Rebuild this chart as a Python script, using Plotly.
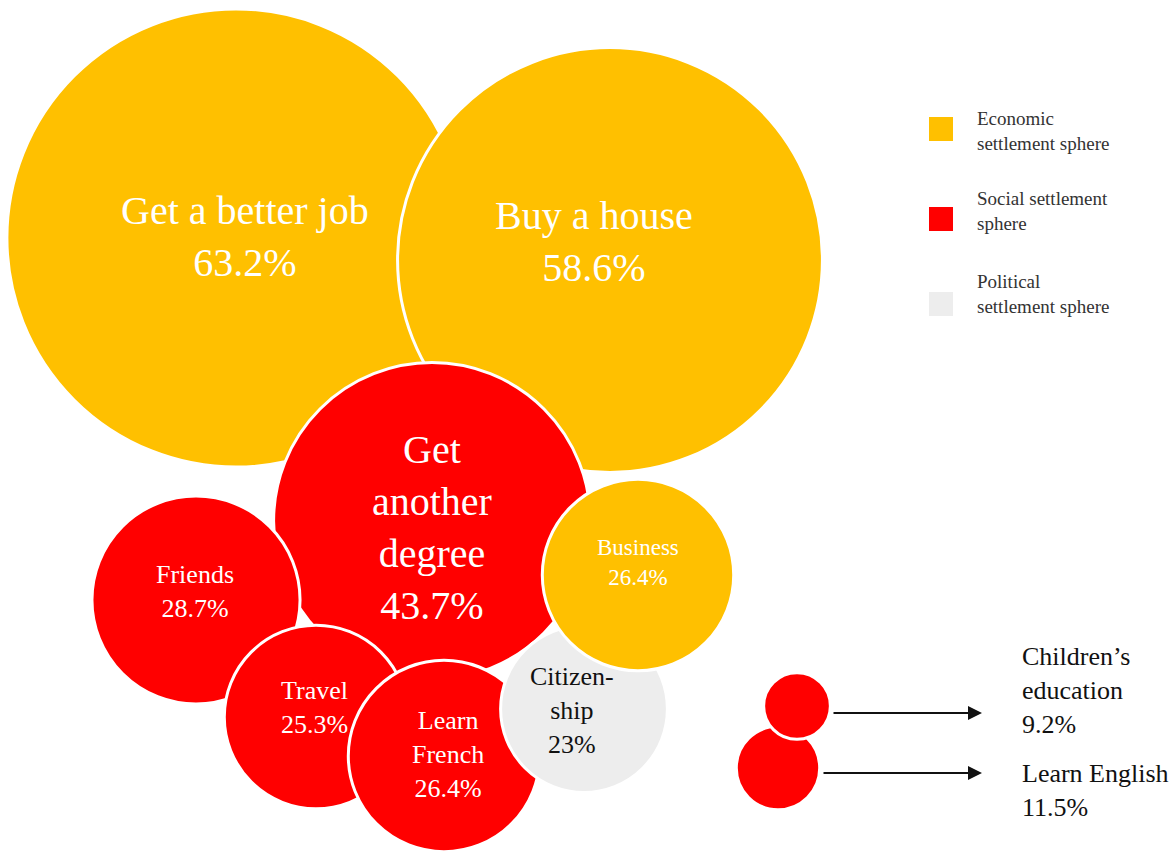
import plotly.graph_objects as go

# ---- data ----
labels = ["Get a better job", "Buy a house", "Get another degree", "Friends", "Travel",
          "Learn French", "Citizenship", "Business", "Learn English", "Children's education"]
values = [63.2, 58.6, 43.7, 28.7, 25.3, 26.4, 23.0, 26.4, 11.5, 9.2]
spheres = ["Economic", "Economic", "Social", "Social", "Social",
           "Social", "Political", "Economic", "Social", "Social"]
value_text = ["63.2%", "58.6%", "43.7%", "28.7%", "25.3%", "26.4%", "23%", "26.4%", "11.5%", "9.2%"]

sphere_names = ["Economic", "Social", "Political"]
legend_labels = ["Economic<br>settlement sphere", "Social settlement<br>sphere", "Political<br>settlement sphere"]

# ---- layout (packed bubble positions, page pixels) ----
pos_x = [236, 610, 432, 196, 316, 444, 584, 638, 778, 797]
pos_y = [238, 260, 521, 600, 717, 756, 709, 575, 768, 706]
scale = 7.25  # diameter px per percent

colors = {"Economic": "#FFC000", "Social": "#FF0000", "Political": "#EDEDED"}
W, H = 1174, 854
FONT = "Liberation Serif"

fig = go.Figure()
fig.add_trace(go.Scatter(
    x=pos_x, y=pos_y, mode="markers",
    marker=dict(size=[v * scale for v in values],
                sizemode="diameter",
                color=[colors[s] for s in spheres],
                opacity=1,
                line=dict(color="white", width=3)),
    hoverinfo="text", text=labels, showlegend=False))

# legend squares
leg_y = [129, 219, 304]
fig.add_trace(go.Scatter(
    x=[941] * 3, y=leg_y, mode="markers",
    marker=dict(symbol="square", size=24, color=[colors[s] for s in sphere_names], line=dict(width=0)),
    hoverinfo="skip", showlegend=False))

ann = []
# in-bubble labels
inside = [
    (0, "Get a better job<br>" + value_text[0], 245, 236, 40, "white"),
    (1, "Buy a house<br>" + value_text[1], 594, 241, 40, "white"),
    (2, "Get<br>another<br>degree<br>" + value_text[2], 432, 527, 40, "white"),
    (3, "Friends<br>" + value_text[3], 195, 591, 26, "white"),
    (4, "Travel<br>" + value_text[4], 314, 707, 26, "white"),
    (5, "Learn<br>French<br>" + value_text[5], 448, 754, 26, "white"),
    (6, "Citizen-<br>ship<br>" + value_text[6], 572, 710, 26, "#111111"),
    (7, "Business<br>" + value_text[7], 638, 562, 23, "white"),
]
for i, txt, x, y, fs, col in inside:
    ann.append(dict(x=x, y=y, text=txt, showarrow=False, xanchor="center", yanchor="middle",
                    font=dict(family=FONT, size=fs, color=col)))

# outside labels with arrows
ann.append(dict(x=1020, y=690, text="Children’s<br>education<br>" + value_text[9], showarrow=False,
                xanchor="left", yanchor="middle", align="left",
                font=dict(family=FONT, size=26, color="#111111")))
ann.append(dict(x=1020, y=790, text=labels[8] + "<br>" + value_text[8], showarrow=False,
                xanchor="left", yanchor="middle", align="left",
                font=dict(family=FONT, size=26, color="#111111")))
for (x0, y0) in [(832, 713), (822, 773)]:
    ann.append(dict(x=982, y=y0, ax=x0, ay=y0, xref="x", yref="y", axref="x", ayref="y",
                    showarrow=True, arrowhead=2, arrowsize=1.4, arrowwidth=2, arrowcolor="#111111",
                    text=""))

# legend labels
for t, y in zip(legend_labels, [131, 211, 294]):
    ann.append(dict(x=975, y=y, text=t, showarrow=False, xanchor="left", yanchor="middle", align="left",
                    font=dict(family=FONT, size=19, color="#333333")))

fig.update_layout(
    width=W, height=H, margin=dict(l=0, r=0, t=0, b=0),
    paper_bgcolor="white", plot_bgcolor="white",
    font=dict(family=FONT),
    xaxis=dict(range=[0, W], visible=False, fixedrange=True),
    yaxis=dict(range=[H, 0], visible=False, fixedrange=True),
    annotations=ann, showlegend=False)

fig.write_html("out.html")
